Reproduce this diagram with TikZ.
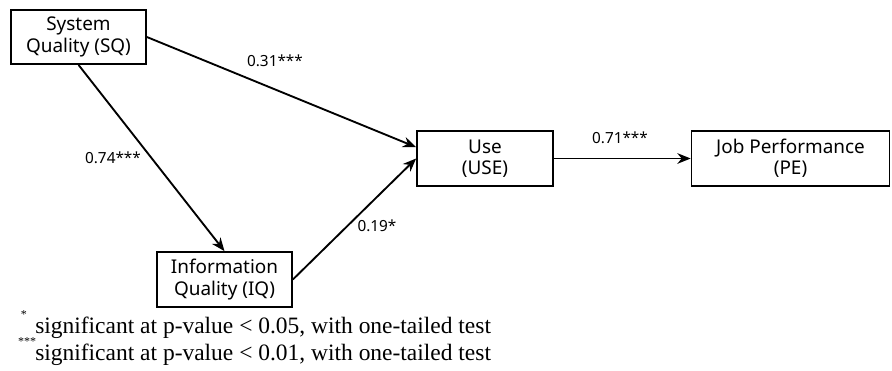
\documentclass[tikz,border=0pt]{standalone}
\usepackage{fontspec}
\setmainfont{Noto Sans}
\newfontfamily\notefont{Liberation Serif}
\usetikzlibrary{arrows.meta}
\begin{document}
\begin{tikzpicture}[x=0.75pt,y=-0.75pt,
  construct/.style={draw, line width=1.3pt, inner sep=0pt, align=center,
    font=\fontsize{14.2}{16}\selectfont},
  causal/.style={line width=1.4pt, -{Stealth[length=10pt,width=8pt]}},
  coef/.style={font=\fontsize{11.5}{14}\selectfont, inner sep=0pt},
  note/.style={font=\notefont\fontsize{17.6}{20}\selectfont, inner sep=0pt, anchor=west},
  sigmark/.style={font=\notefont\fontsize{9}{10}\selectfont, inner sep=0pt}]
\useasboundingbox (0,0) rectangle (892,371);
% constructs
\node[construct, minimum width=101.25pt, minimum height=40.5pt] (sq) at (78.5,37) {System\\Quality (SQ)};
\node[construct, minimum width=101.25pt, minimum height=41.25pt] (iq) at (224.5,279.5) {Information\\Quality (IQ)};
\node[construct, minimum width=102pt, minimum height=41.25pt] (use) at (485,158.5) {Use\\(USE)};
\node[construct, minimum width=148.5pt, minimum height=41.25pt] (pe) at (790.5,158.5) {Job Performance\\(PE)};
% structural paths
\draw[causal] (sq.east) -- ([yshift=8.5pt]use.west);
\draw[causal] (sq.south) -- (iq.north);
\draw[causal] (iq.east) -- (use.west);
\draw[causal] (use.east) -- (pe.west);
% path coefficients
\node[coef] (c1) at (275,61) {0.31***};
\node[coef] (c2) at (113,158) {0.74***};
\node[coef] (c3) at (377,226) {0.19*};
\node[coef] (c4) at (620,138) {0.71***};
% significance notes
\node[sigmark] (m1) at (24,315) {*};
\node[note] (n1) at (35,328) {significant at p-value < 0.05, with one-tailed test};
\node[sigmark] (m2) at (27,342) {***};
\node[note] (n2) at (35,355) {significant at p-value < 0.01, with one-tailed test};
\end{tikzpicture}
\end{document}
